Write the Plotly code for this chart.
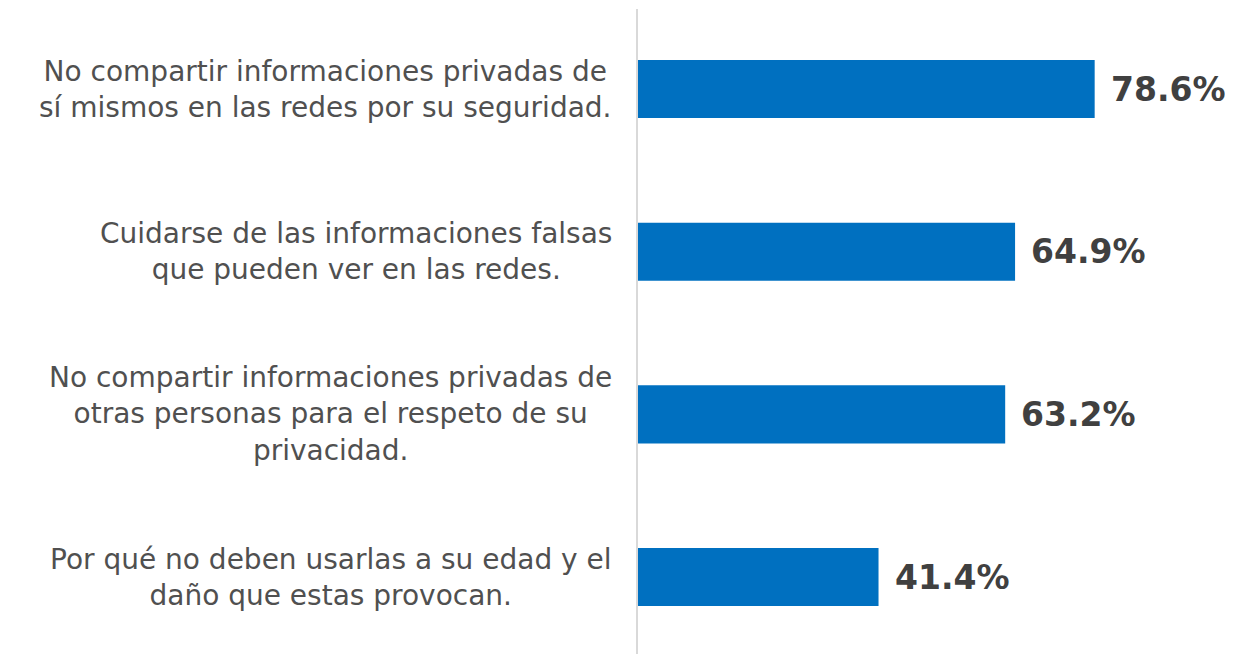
import plotly.graph_objects as go

categories = [
    "No compartir informaciones privadas de<br>sí mismos en las redes por su seguridad.",
    "Cuidarse de las informaciones falsas<br>que pueden ver en las redes.",
    "No compartir informaciones privadas de<br>otras personas para el respeto de su<br>privacidad.",
    "Por qué no deben usarlas a su edad y el<br>daño que estas provocan.",
]
values = [78.6, 64.9, 63.2, 41.4]
value_labels = ["78.6%", "64.9%", "63.2%", "41.4%"]

fig = go.Figure()
fig.add_trace(go.Bar(
    x=values,
    y=list(range(len(categories))),
    orientation="h",
    marker=dict(color="#0070C0", line=dict(width=0)),
    width=0.357,
    hoverinfo="skip",
))

annotations = []
for i, (cat, v, lab) in enumerate(zip(categories, values, value_labels)):
    annotations.append(dict(
        x=-0.041, xref="paper", y=i, yref="y",
        text=cat, showarrow=False, xanchor="right", yanchor="middle",
        align="center",
        font=dict(family="DejaVu Sans", size=28, color="#505050"),
    ))
    annotations.append(dict(
        x=v, xref="x", y=i, yref="y",
        text="<b>" + lab + "</b>", showarrow=False, xanchor="left", yanchor="middle",
        xshift=14,
        font=dict(family="DejaVu Sans", size=33, color="#404040"),
    ))

fig.update_layout(
    width=1225, height=646,
    margin=dict(l=630, r=14, t=1, b=0),
    paper_bgcolor="white", plot_bgcolor="white",
    showlegend=False,
    annotations=annotations,
    xaxis=dict(range=[0, 100], visible=False, fixedrange=True),
    yaxis=dict(range=[3.473, -0.492], showticklabels=False, showgrid=False,
               zeroline=False, showline=True, linecolor="#d9d9d9", linewidth=2,
               ticks="", fixedrange=True),
)

fig.write_html("out.html")
